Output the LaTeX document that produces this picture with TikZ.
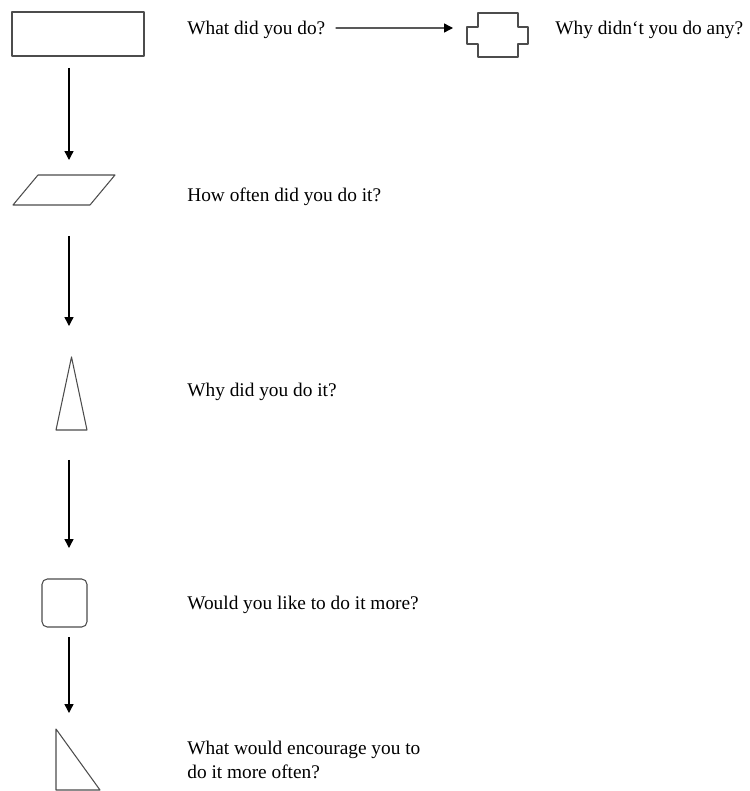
\documentclass[tikz,border=0pt]{standalone}
\usepackage{fontspec}
\setmainfont{Liberation Serif}
\usetikzlibrary{arrows.meta}
\tikzstyle{slot} = [rectangle, inner sep=0pt, outer sep=0pt]
\tikzstyle{outline} = [draw=black!70, line width=0.6pt, line join=round]
\tikzstyle{question} = [anchor=west, inner sep=0pt, align=left, font=\fontsize{11}{13.6}\selectfont]
\tikzstyle{flow} = [-{Triangle[length=5pt,width=5pt]}, line width=0.75pt]

\begin{document}
\begin{tikzpicture}[x=0.02cm, y=-0.02cm]
    \useasboundingbox (0,0) rectangle (750,791);
    \coordinate (spine) at (69,0);

    % shapes down the left
    \node [slot, outline, minimum width=2.64cm, minimum height=0.88cm] (rect) at (78,34) {};
    \node [slot, minimum width=2.04cm, minimum height=0.6cm] (para) at (64,190) {};
    \draw [outline, shift={(para.north west)}] (25,0) -- (102,0) -- (77,30) -- (0,30) -- cycle;
    \node [slot, minimum width=0.62cm, minimum height=1.46cm] (tri) at (71.5,393.5) {};
    \draw [outline, shift={(tri.north west)}] (15.5,0) -- (31,73) -- (0,73) -- cycle;
    \node [slot, outline, rounded corners=3pt, minimum width=0.9cm, minimum height=0.96cm] (box) at (64.5,603) {};
    \node [slot, minimum width=0.88cm, minimum height=1.22cm] (wedge) at (78,759.5) {};
    \draw [outline, shift={(wedge.north west)}] (0,0) -- (44,61) -- (0,61) -- cycle;

    % shape at the top right
    \node [slot, minimum width=1.22cm, minimum height=0.88cm] (cross) at (497.5,35) {};
    \draw [outline, shift={(cross.north west)}] (11,0) -- (51,0) -- (51,14) -- (61,14) -- (61,31)
        -- (51,31) -- (51,44) -- (11,44) -- (11,31) -- (0,31) -- (0,14) -- (11,14) -- cycle;

    % questions
    \node [question] (what) at (187,30) {What did you do?};
    \node [question] (whynot) at (555,30) {Why didn`t you do any?};
    \node [question] (often) at (187,197) {How often did you do it?};
    \node [question] (why) at (187,392) {Why did you do it?};
    \node [question] (more) at (187,605) {Would you like to do it more?};
    \node [question] (encourage) at (187,760) {What would encourage you to\\do it more often?};

    % arrows
    \draw [flow, shorten <=0.2cm, shorten >=0.28cm] (what.east) ++(0,-2) -- ([yshift=0.04cm]what.east -| cross.west);
    \draw [flow, shorten <=0.24cm, shorten >=0.3cm] (rect.south -| spine) -- (para.north -| spine);
    \draw [flow, shorten <=0.62cm, shorten >=0.62cm] (para.south -| spine) -- (tri.north -| spine);
    \draw [flow, shorten <=0.6cm, shorten >=0.62cm] (tri.south -| spine) -- (box.north -| spine);
    \draw [flow, shorten <=0.2cm, shorten >=0.32cm] (box.south -| spine) -- (wedge.north -| spine);
\end{tikzpicture}
\end{document}
